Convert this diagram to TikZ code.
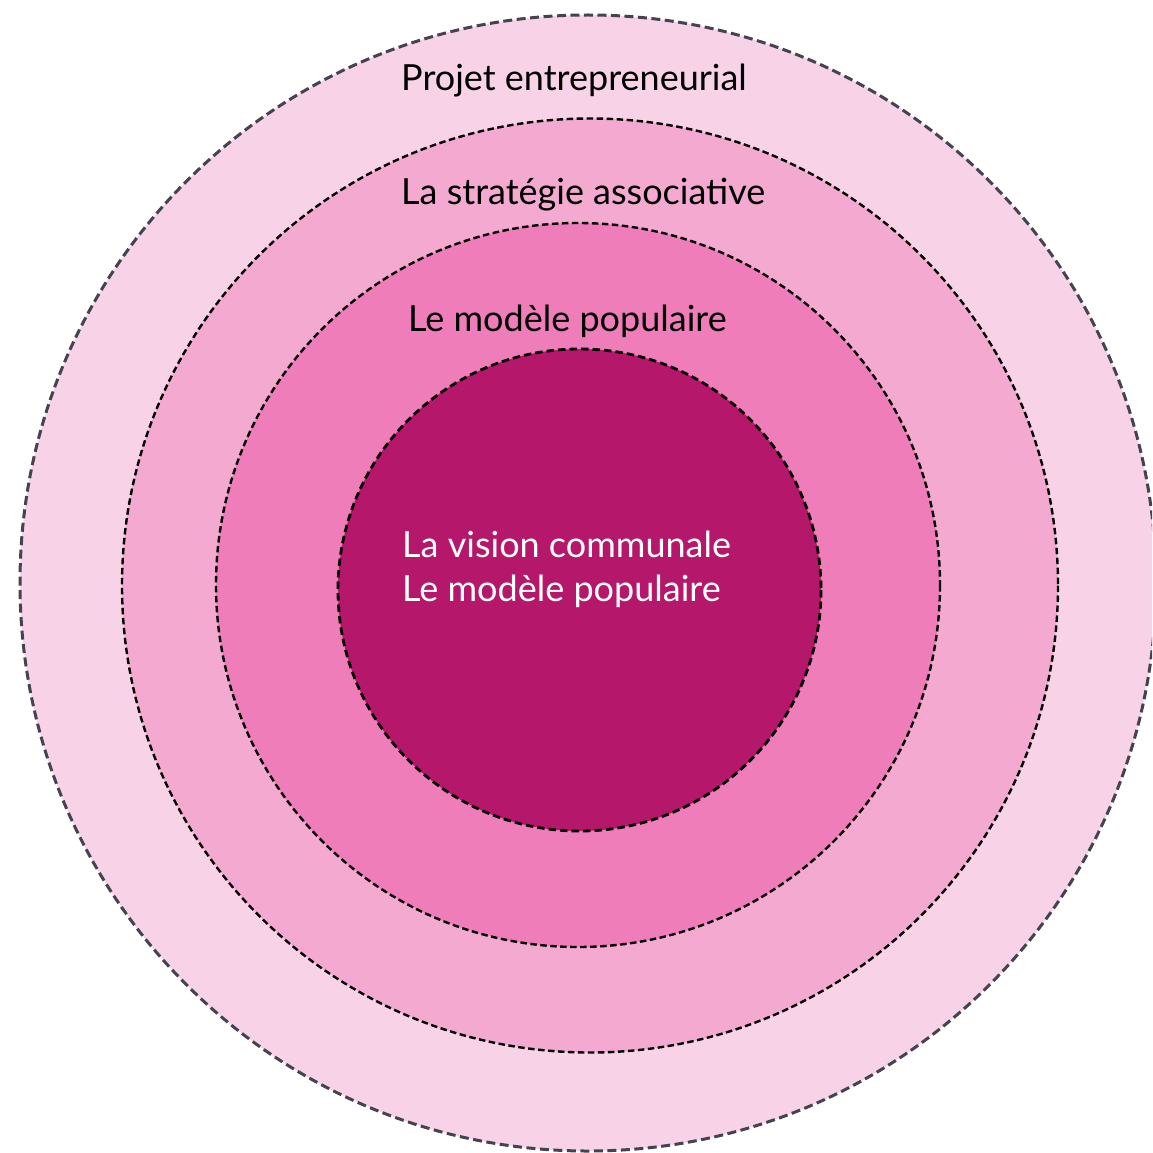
\documentclass[tikz,border=0pt]{standalone}
\usepackage{fontspec}
\setmainfont{Lato}
\definecolor{ring1}{HTML}{F8D3E8}
\definecolor{ring2}{HTML}{F3A9D0}
\definecolor{ring3}{HTML}{EE7DBA}
\definecolor{ring4}{HTML}{B5186B}
\definecolor{outerline}{HTML}{45434F}
\tikzset{
  outerring/.style={fill=ring1, draw=outerline, line width=3pt, dash pattern=on 9pt off 4.5pt},
  midring/.style={draw=black, line width=2.4pt, dash pattern=on 6.5pt off 3.5pt},
  innerring/.style={draw=black, line width=2.8pt, dash pattern=on 7.5pt off 4pt},
  darklabel/.style={font=\fontsize{36}{42}\selectfont, text=black, anchor=base west, inner sep=0pt},
}
\begin{document}
\begin{tikzpicture}[x=1pt,y=-1pt]
\useasboundingbox (0,0) rectangle (1152,1153);
\clip (0,0) rectangle (1152,1153);
\fill[white] (0,0) rectangle (1152,1153);
\draw[outerring] (588,583) ellipse [x radius=568, y radius=568];
\draw[midring, fill=ring2] (590,585.5) ellipse [x radius=468, y radius=467];
\draw[midring, fill=ring3] (578,585) ellipse [x radius=362, y radius=362];
\draw[innerring, fill=ring4] (579.5,590) ellipse [x radius=241.5, y radius=241];
\node[darklabel] (t1) at (401,91) {Projet entrepreneurial};
\node[darklabel] (t2) at (401,204) {La stratégie associative};
\node[darklabel] (t3) at (408,331) {Le modèle populaire};
\node[darklabel, text=white] (t4) at (402,557) {La vision communale};
\node[darklabel, text=white] (t5) at (402,601) {Le modèle populaire};
\end{tikzpicture}
\end{document}
